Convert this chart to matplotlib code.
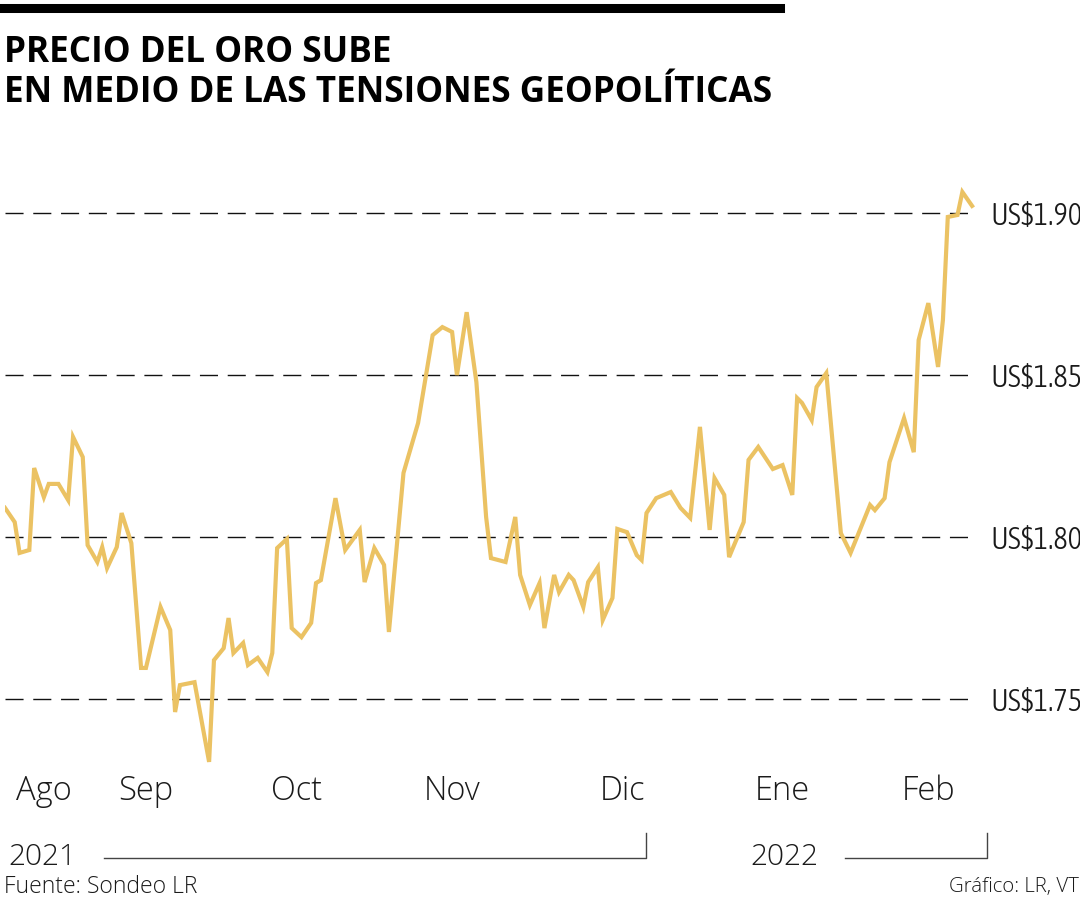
import matplotlib
matplotlib.use("Agg")
import matplotlib.pyplot as plt
from matplotlib.lines import Line2D
import pandas as pd

# gold price (US$ per ounce)
start_date = "2021-08-02"
day_offsets = [0, 2, 3, 5, 6, 8, 9, 11, 13, 14, 16, 17, 19, 20, 21, 23, 24, 26, 28, 29,
               32, 34, 35, 36, 39, 42, 43, 45, 46, 47, 49, 50, 52, 54, 55, 56, 58, 59, 61, 63,
               64, 65, 68, 70, 73, 74, 76, 78, 79, 82, 85, 88, 90, 92, 93, 95, 97, 99, 100, 103,
               105, 106, 108, 110, 111, 113, 114, 116, 117, 119, 120, 122, 123, 125, 126, 128, 130, 131, 132, 134,
               137, 139, 141, 143, 145, 146, 148, 149, 152, 153, 155, 158, 160, 162, 163, 164, 166, 167, 169, 172,
               174, 178, 179, 181, 182, 185, 187, 188, 190, 192, 193, 194, 196, 197, 199]
prices = [1809.0, 1804.6, 1795.1, 1796.0, 1821.3, 1812.3, 1816.4, 1816.4, 1811.4, 1830.9,
          1824.7, 1797.5, 1792.3, 1796.9, 1790.4, 1796.9, 1807.4, 1798.1, 1759.6, 1759.6,
          1778.4, 1771.3, 1746.0, 1754.3, 1755.2, 1730.6, 1762.0, 1765.7, 1775.0, 1764.2,
          1767.3, 1760.5, 1762.7, 1758.3, 1764.2, 1796.6, 1799.4, 1771.9, 1769.1, 1773.5,
          1785.8, 1786.7, 1812.0, 1796.0, 1802.2, 1786.1, 1796.6, 1791.4, 1770.7, 1819.8,
          1835.2, 1862.3, 1864.8, 1863.3, 1850.0, 1869.4, 1847.8, 1806.2, 1793.5, 1792.3,
          1806.2, 1788.3, 1779.0, 1785.8, 1771.9, 1788.3, 1783.0, 1788.3, 1786.7, 1778.4,
          1786.1, 1790.7, 1774.4, 1781.2, 1802.5, 1801.5, 1794.4, 1792.9, 1807.4, 1812.0,
          1813.9, 1809.0, 1805.9, 1834.0, 1802.2, 1818.2, 1813.0, 1793.8, 1804.6, 1823.8,
          1827.8, 1821.0, 1822.2, 1813.0, 1842.9, 1841.4, 1836.1, 1846.3, 1850.6, 1801.2,
          1795.1, 1809.9, 1808.3, 1812.0, 1823.1, 1836.7, 1826.2, 1860.8, 1872.2, 1852.5,
          1867.0, 1898.8, 1899.4, 1906.5, 1902.2]

grid_levels = [1750, 1800, 1850, 1900]
grid_labels = ["US$1.750", "US$1.800", "US$1.850", "US$1.900"]

month_labels = ["Ago", "Sep", "Oct", "Nov", "Dic", "Ene", "Feb"]
month_label_dates = ["2021-08-10", "2021-08-31", "2021-10-01", "2021-11-02",
                     "2021-12-07", "2022-01-09", "2022-02-08"]

dates = pd.Timestamp(start_date) + pd.to_timedelta(day_offsets, unit="D")

W, H = 1080, 900
fig = plt.figure(figsize=(W / 100, H / 100), dpi=100)
fig.patch.set_facecolor("white")

narrow = dict(family=["Asap Condensed", "DejaVu Sans"], weight=300, color="#1a1a1a")
light = dict(family=["Open Sans", "DejaVu Sans"], weight=300, stretch="normal", color="#1a1a1a")

def fx(px):
    return px / W

def fy(py):
    return 1 - py / H

# plot area in pixels: left 5, right 975, top 180, bottom 770
ax = fig.add_axes([fx(5), fy(770), fx(970), (770 - 180) / H])
ax.plot(dates, prices, color="#EBC263", lw=3.0, solid_joinstyle="miter", zorder=3)

for lvl in grid_levels:
    ax.axhline(lvl, color="#111111", lw=1.0, dashes=(13, 7), zorder=1)

x0 = pd.Timestamp(start_date)
ax.set_xlim(x0, x0 + pd.Timedelta(days=199.6))
ax.set_ylim(1728.1, 1910.2)

for s in ax.spines.values():
    s.set_visible(False)

ax.yaxis.tick_right()
ax.set_yticks(grid_levels)
ax.set_yticklabels(grid_labels, fontsize=22, **narrow)
ax.tick_params(axis="y", length=0, pad=11)

ax.set_xticks(pd.to_datetime(month_label_dates))
ax.set_xticklabels(month_labels, fontsize=23.5, **light)
ax.tick_params(axis="x", length=0, pad=3.5)

# title and top bar
fig.add_artist(Line2D([0, fx(780)], [fy(7.5), fy(7.5)], color="black", lw=6.5))
title_font = dict(family="Open Sans", weight="bold", stretch="normal", fontsize=25.3,
                  va="center", ha="left", color="black")
fig.text(fx(4), fy(53), "PRECIO DEL ORO SUBE", **title_font)
fig.text(fx(4), fy(93), "EN MEDIO DE LAS TENSIONES GEOPOLÍTICAS", **title_font)

# year brackets
bracket_color = "#444444"
fig.text(fx(8), fy(857), "2021", fontsize=21.5, va="center", ha="left", **light)
fig.add_artist(Line2D([fx(104), fx(646), fx(646)], [fy(858), fy(858), fy(833)], color=bracket_color, lw=1.0))
fig.text(fx(750), fy(857), "2022", fontsize=21.5, va="center", ha="left", **light)
fig.add_artist(Line2D([fx(845), fx(987), fx(987)], [fy(858), fy(858), fy(833)], color=bracket_color, lw=1.0))

# footer
fig.text(fx(4), fy(887), "Fuente: Sondeo LR", fontsize=16.5, va="center", ha="left", **light)
fig.text(fx(1079), fy(887), "Gráfico: LR, VT", fontsize=14.7, va="center", ha="right", **light)

fig.savefig("out.png", dpi=100, facecolor="white")
